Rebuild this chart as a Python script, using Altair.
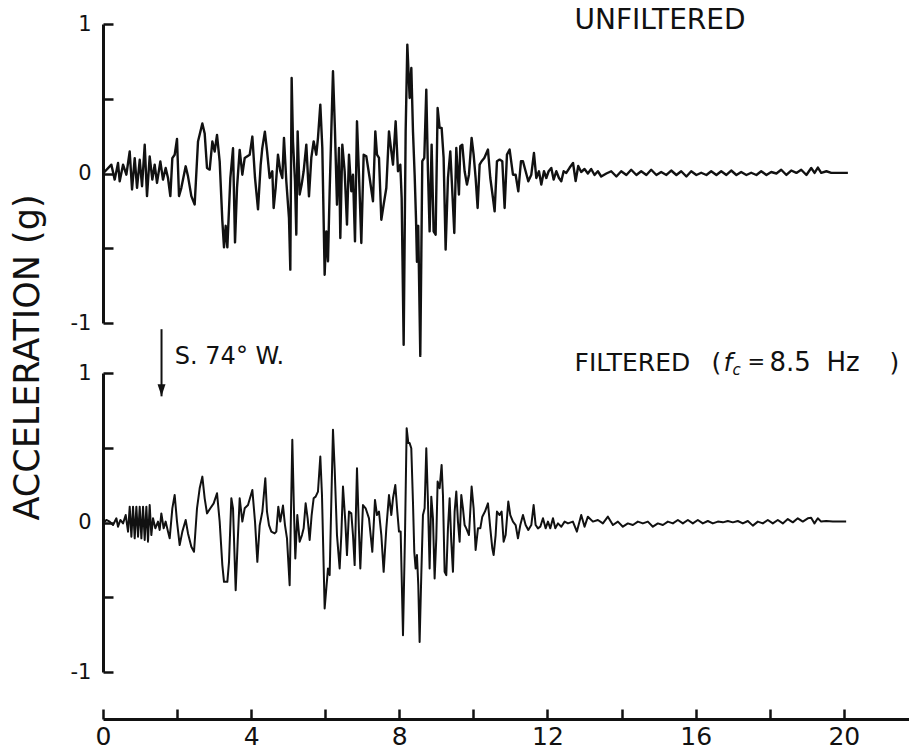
import altair as alt
import pandas as pd

# ---------------- data ----------------
UNF_T = [0.0, 0.226, 0.316, 0.406, 0.451, 0.541, 0.631, 0.721, 0.784, 0.856, 0.919, 0.991,
         1.054, 1.126, 1.188, 1.26, 1.332, 1.395, 1.458, 1.548, 1.62, 1.692, 1.755, 1.818,
         1.872, 1.935, 1.998, 2.052, 2.115, 2.232, 2.295, 2.385, 2.475, 2.565, 2.682, 2.745,
         2.808, 2.88, 2.952, 3.015, 3.078, 3.15, 3.222, 3.267, 3.312, 3.357, 3.438, 3.51,
         3.564, 3.618, 3.69, 3.762, 3.825, 3.96, 4.032, 4.104, 4.185, 4.257, 4.30, 4.37,
         4.43, 4.499, 4.571, 4.607, 4.661, 4.724, 4.787, 4.841, 4.886, 4.949, 5.021, 5.057,
         5.093, 5.129, 5.183, 5.219, 5.255, 5.309, 5.363, 5.417, 5.489, 5.561, 5.624, 5.687,
         5.759, 5.804, 5.867, 5.921, 5.984, 6.029, 6.074, 6.119, 6.164, 6.209, 6.263, 6.317,
         6.371, 6.407, 6.461, 6.524, 6.587, 6.641, 6.704, 6.749, 6.803, 6.857, 6.911, 6.974,
         7.037, 7.109, 7.199, 7.289, 7.352, 7.397, 7.451, 7.514, 7.577, 7.649, 7.721, 7.784,
         7.829, 7.901, 7.964, 8.027, 8.063, 8.117, 8.171, 8.216, 8.279, 8.324, 8.369, 8.414,
         8.45, 8.476, 8.51, 8.566, 8.62, 8.674, 8.728, 8.773, 8.818, 8.872, 8.926, 8.98,
         9.034, 9.088, 9.142, 9.196, 9.25, 9.313, 9.376, 9.43, 9.484, 9.538, 9.61, 9.646,
         9.7, 9.763, 9.826, 9.88, 9.952, 10.006, 10.06, 10.114, 10.168, 10.222, 10.294, 10.393,
         10.456, 10.528, 10.573, 10.636, 10.708, 10.78, 10.843, 10.906, 10.978, 11.068, 11.14, 11.212,
         11.284, 11.338, 11.41, 11.482, 11.563, 11.635, 11.698, 11.77, 11.833, 11.905, 11.968, 12.031,
         12.103, 12.166, 12.238, 12.31, 12.373, 12.436, 12.508,
         12.6, 12.69, 12.76, 12.83, 12.91, 13.0, 13.09, 13.18, 13.27, 13.36, 13.45, 13.59,
         13.72, 13.86, 13.99, 14.13, 14.26, 14.4, 14.53, 14.67, 14.8, 14.94, 15.07, 15.21,
         15.34, 15.48, 15.61, 15.75, 15.88, 16.02, 16.15, 16.29, 16.42, 16.56, 16.69, 16.83,
         16.96, 17.1, 17.23, 17.37, 17.5, 17.64, 17.77, 17.91, 18.04, 18.18, 18.31, 18.45,
         18.58, 18.72, 18.85, 18.99, 19.12, 19.21, 19.3, 19.39, 19.53, 19.66, 19.8, 20.11]
UNF_A = [0.0, 0.059, -0.041, 0.07, -0.052, 0.059, -0.008, 0.147, -0.107, 0.103, -0.096, 0.092,
         -0.085, 0.192, -0.151, 0.114, -0.041, 0.059, -0.063, 0.081, -0.041, 0.037, -0.03, -0.151,
         0.103, 0.125, 0.231, -0.151, -0.096, 0.048, -0.019, -0.151, -0.207, 0.214, 0.335, 0.268,
         0.037, 0.026, 0.214, 0.147, 0.258, 0.081, -0.317, -0.494, -0.35, -0.494, -0.03, 0.169,
         -0.461, -0.096, 0.158, -0.008, 0.103, 0.125, 0.247, -0.03, -0.24, 0.06, 0.17, 0.28,
         0.148, -0.03, 0.015, -0.231, -0.097, 0.126, 0.015, -0.03, 0.238, -0.052, -0.297, -0.643,
         0.639, 0.215, -0.052, -0.409, 0.282, -0.141, -0.074, 0.015, 0.193, -0.153, 0.104, 0.215,
         0.126, 0.238, 0.461, 0.171, -0.677, -0.387, -0.588, -0.119, 0.282, 0.684, 0.282, -0.208,
         0.171, -0.431, 0.193, 0.015, -0.342, 0.126, -0.119, -0.008, -0.454, 0.349, -0.008, -0.465,
         0.126, 0.115, -0.03, -0.186, 0.282, 0.126, 0.104, -0.309, -0.208, -0.097, 0.282, 0.148,
         0.059, 0.349, 0.015, 0.059, -0.164, -1.145, 0.282, 0.862, 0.505, 0.706, 0.28, -0.01,
         -0.3, -0.59, -0.35, -1.22, 0.082, 0.104, 0.561, 0.015, -0.387, 0.193, -0.387, -0.409,
         0.438, 0.305, 0.305, 0.104, -0.509, -0.03, 0.148, -0.119, -0.398, 0.171, -0.141, 0.182,
         0.193, 0.015, -0.074, -0.008, 0.238, 0.126, -0.03, -0.231, 0.059, 0.082, 0.104, 0.16,
         -0.03, -0.164, -0.253, 0.082, 0.093, 0.082, -0.231, 0.126, 0.16, -0.008, -0.008, -0.119,
         0.082, 0.082, 0.015, -0.052, -0.008, 0.137, -0.03, 0.015, -0.074, 0.015, -0.03, 0.015,
         0.037, -0.041, 0.015, -0.03, -0.052, 0.015, 0.004,
         0.04, 0.07, -0.05, 0.05, 0.01, 0.03, 0.0, 0.03, -0.01, 0.015, -0.02, 0.0,
         0.015, -0.02, 0.015, -0.01, 0.025, -0.01, 0.015, -0.01, 0.025, -0.01, 0.01, -0.01,
         0.02, -0.01, 0.015, -0.02, 0.015, -0.01, 0.005, -0.01, 0.015, -0.01, 0.015, -0.01,
         0.02, -0.01, 0.01, -0.01, 0.005, -0.01, 0.015, -0.01, 0.01, 0.0, 0.025, -0.01,
         0.02, 0.004, 0.025, -0.01, 0.037, 0.004, 0.04, 0.004, 0.015, 0.004, 0.004, 0.004]

FIL_T = [0.0, 0.091, 0.181, 0.271, 0.361, 0.406, 0.469, 0.541, 0.613, 0.676, 0.721, 0.766,
         0.811, 0.856, 0.901, 0.946, 0.991, 1.036, 1.081, 1.126, 1.171, 1.215, 1.26, 1.305,
         1.35, 1.413, 1.485, 1.53, 1.575, 1.638, 1.692, 1.755, 1.8, 1.872, 1.935, 1.998,
         2.07, 2.142, 2.232, 2.295, 2.385, 2.457, 2.538, 2.61, 2.682, 2.745, 2.808, 2.898,
         2.988, 3.078, 3.15, 3.222, 3.267, 3.357, 3.402, 3.465, 3.51, 3.582, 3.636, 3.69,
         3.762, 3.825, 3.915, 4.032, 4.104, 4.167, 4.23, 4.302, 4.382, 4.427, 4.481, 4.544,
         4.634, 4.679, 4.733, 4.787, 4.859, 4.913, 4.967, 5.039, 5.111, 5.156, 5.192, 5.246,
         5.309, 5.372, 5.417, 5.471, 5.525, 5.579, 5.633, 5.687, 5.741, 5.804, 5.867, 5.912,
         5.984, 6.029, 6.074, 6.119, 6.164, 6.209, 6.254, 6.317, 6.389, 6.434, 6.479, 6.542,
         6.587, 6.641, 6.704, 6.749, 6.794, 6.857, 6.911, 6.947, 7.019, 7.091, 7.181, 7.271,
         7.343, 7.397, 7.451, 7.514, 7.577, 7.649, 7.721, 7.784, 7.829, 7.892, 7.946, 7.991,
         8.036, 8.099, 8.153, 8.198, 8.243, 8.278, 8.323, 8.368, 8.404, 8.44, 8.476, 8.512,
         8.548, 8.593, 8.638, 8.683, 8.728, 8.773, 8.818, 8.863, 8.908, 8.953, 8.998, 9.034,
         9.088, 9.142, 9.178, 9.223, 9.268, 9.313, 9.358, 9.403, 9.448, 9.493, 9.538, 9.583,
         9.628, 9.673, 9.718, 9.763, 9.808, 9.88, 9.952, 10.006, 10.06, 10.123, 10.186, 10.24,
         10.312, 10.393, 10.456, 10.51, 10.546, 10.6, 10.636, 10.708, 10.762, 10.816, 10.87, 10.942,
         10.996, 11.068, 11.14, 11.203, 11.266, 11.338, 11.41, 11.482, 11.563, 11.626, 11.68, 11.743,
         11.806, 11.878, 11.95, 12.013, 12.076, 12.148, 12.211, 12.283, 12.373, 12.463, 12.553,
         12.686, 12.794, 12.911, 13.001, 13.091, 13.226, 13.361, 13.496, 13.631, 13.766, 13.901, 14.035,
         14.17, 14.305, 14.44, 14.575, 14.71, 14.845, 14.98, 15.115, 15.25, 15.385, 15.52, 15.655,
         15.79, 15.924, 16.059, 16.194, 16.329, 16.464, 16.599, 16.734, 16.869, 17.004, 17.139, 17.274,
         17.409, 17.544, 17.679, 17.813, 17.948, 18.083, 18.218, 18.353, 18.488, 18.623, 18.758, 18.893,
         19.028, 19.118, 19.208, 19.298, 19.388, 19.523, 19.703, 20.063]
FIL_A = [-0.006, 0.017, 0.006, -0.017, 0.028, -0.028, 0.017, -0.006, 0.05, -0.061, 0.106, -0.095,
         0.106, -0.106, 0.106, -0.095, 0.106, -0.106, 0.106, -0.117, 0.106, -0.128, 0.117, -0.084,
         0.028, -0.039, 0.006, -0.05, 0.061, -0.039, 0.006, -0.061, -0.106, 0.095, 0.184, 0.006,
         -0.151, -0.061, 0.017, -0.073, -0.162, -0.196, 0.095, 0.229, 0.307, 0.162, 0.061, 0.095,
         0.128, 0.196, 0.006, -0.285, -0.397, -0.397, -0.263, 0.162, 0.095, -0.453, -0.128, 0.162,
         0.006, 0.095, 0.117, 0.218, 0.006, -0.263, -0.02, 0.073, 0.296, 0.073, -0.017, -0.061,
         -0.073, -0.061, 0.106, 0.006, 0.113, -0.017, -0.106, -0.419, 0.553, 0.073, -0.24, 0.05,
         -0.128, -0.084, -0.039, 0.128, 0.028, -0.117, 0.05, 0.162, 0.173, 0.207, 0.441, 0.184,
         -0.575, -0.441, -0.307, -0.352, 0.14, 0.62, 0.363, -0.084, -0.307, -0.084, 0.24, 0.006,
         -0.218, 0.073, 0.061, -0.084, -0.285, 0.363, -0.061, -0.307, 0.117, 0.095, 0.028, -0.196,
         0.151, 0.05, 0.073, -0.084, -0.33, -0.039, 0.184, 0.05, 0.162, 0.251, 0.073, -0.061,
         -0.061, -0.754, -0.084, 0.631, 0.531, 0.531, 0.497, 0.14, -0.196, -0.307, -0.218, -0.419,
         -0.799, -0.352, 0.05, 0.095, 0.497, 0.14, -0.307, 0.173, 0.028, -0.374, -0.106, 0.274,
         0.229, 0.385, 0.184, -0.33, -0.352, -0.039, 0.162, -0.128, -0.33, 0.073, 0.207, 0.006,
         -0.128, 0.184, 0.095, -0.017, -0.039, -0.084, 0.24, 0.095, -0.184, -0.039, -0.039, 0.039,
         0.073, 0.128, -0.039, -0.173, -0.218, -0.084, 0.073, 0.05, 0.073, -0.128, -0.084, 0.14,
         0.05, 0.006, -0.017, -0.106, -0.017, 0.05, -0.017, -0.05, -0.017, 0.117, -0.017, -0.039,
         -0.028, 0.028, -0.039, 0.006, -0.039, 0.028, -0.039, -0.006, -0.028, 0.006, -0.006,
         0.006, -0.061, 0.05, -0.028, 0.039, 0.006, 0.017, -0.006, 0.039, -0.017, 0.006, -0.028,
         -0.006, -0.017, 0.006, -0.006, 0.006, -0.028, -0.006, -0.017, 0.006, -0.006, 0.017, -0.006,
         0.017, -0.006, 0.017, -0.006, 0.01, -0.006, 0.006, 0.001, 0.01, 0.001, 0.01, -0.006,
         0.01, -0.021, 0.006, -0.006, 0.017, -0.006, 0.017, -0.006, 0.023, 0.001, 0.028, 0.006,
         0.028, 0.032, -0.006, 0.028, 0.006, 0.01, 0.006, 0.006]

X_TICKS = [0, 2, 4, 6, 8, 10, 12, 14, 16, 18, 20]
Y_TICKS = [-1, -0.5, 0, 0.5, 1]
X_DOMAIN = [0, 21.76]
Y_DOMAIN = [-1, 1]

Y_TITLE = "ACCELERATION (g)"
TOP_LABEL = ["UNFILTERED"]
TOP_LABEL_T, TOP_LABEL_A = [12.73], [1.021]
BOT_LABEL_T, BOT_LABEL_A = [12.73], [1.065]
DIR_LABEL = ["S. 74° W."]
DIR_LABEL_T, DIR_LABEL_A = [1.94], [1.105]
ARROW_T, ARROW_TOP, ARROW_TIP = [1.58], [1.293], [0.844]

# pieces of "FILTERED ( f_c = 8.5 Hz )": text, pixel offset, size, style, vertical shift
FILT_PIECES = [("FILTERED", 0, 25, "normal", 0), ("(", 137, 25, "normal", 0),
               ("f", 149, 25, "italic", 0), ("c", 158, 15, "italic", 7),
               ("=", 173, 21, "normal", 0), ("8.5", 195, 26, "normal", 0),
               ("Hz", 252, 26, "normal", 0), (")", 315, 25, "normal", 0)]

FONT = "DejaVu Sans"
INK = "#111111"
W, H = 806, 299

unf = pd.DataFrame({"t": UNF_T, "a": UNF_A})
fil = pd.DataFrame({"t": FIL_T, "a": FIL_A})

xs = alt.Scale(domain=X_DOMAIN, nice=False, zero=False)
ys = alt.Scale(domain=Y_DOMAIN, nice=False, zero=False)

Y_LABEL_EXPR = ("datum.value % 1 == 0 ? (datum.value < 0 ? '-' + abs(datum.value) "
                ": '' + datum.value) : ''")


def y_main_axis(title=None):
    kw = dict(orient="left", values=Y_TICKS, labelExpr=Y_LABEL_EXPR, ticks=False,
              tickSize=0, domain=True, domainWidth=3, domainColor=INK, labelFont=FONT,
              labelFontSize=21, labelColor=INK, labelPadding=12, grid=False)
    if title:
        kw.update(title=title, titleX=-76, titleY=333, titleAlign="center",
                  titleBaseline="middle", titleFont=FONT, titleFontSize=35,
                  titleFontWeight="normal", titleColor=INK, titleLimit=1000)
    else:
        kw.update(title=None)
    return alt.Axis(**kw)


y_tick_axis = alt.Axis(orient="left", offset=-10, values=Y_TICKS, ticks=True, tickSize=10,
                       tickWidth=2.5, tickColor=INK, labels=False, domain=False,
                       grid=False, title=None)

x_main_axis = alt.Axis(orient="bottom", offset=47, values=X_TICKS,
                       labelExpr="datum.value % 4 == 0 ? datum.label : ''",
                       ticks=False, tickSize=0, domain=True, domainWidth=3, domainColor=INK,
                       labelFont=FONT, labelFontSize=25, labelColor=INK, labelPadding=5,
                       labelFlush=False, grid=False, title=None)
x_tick_axis = alt.Axis(orient="bottom", offset=37, values=X_TICKS, ticks=True, tickSize=10,
                       tickWidth=2.5, tickColor=INK, labels=False, domain=False,
                       grid=False, title=None)


def noax(field):
    return alt.X(field, scale=xs, axis=None)


def noay(field):
    return alt.Y(field, scale=ys, axis=None)


# ---------------- top panel (unfiltered) ----------------
top_line = alt.Chart(unf).mark_line(color=INK, strokeWidth=2.4, strokeJoin="round").encode(
    x=noax("t:Q"), y=alt.Y("a:Q", scale=ys, axis=y_main_axis(Y_TITLE)))
top_ticks = alt.Chart(unf).mark_line(strokeOpacity=0).encode(
    x=noax("t:Q"), y=alt.Y("a:Q", scale=ys, axis=y_tick_axis))
top_lab = alt.Chart(pd.DataFrame({"t": TOP_LABEL_T, "a": TOP_LABEL_A, "s": TOP_LABEL})).mark_text(
    align="left", baseline="middle", font=FONT, fontSize=28, color=INK).encode(
    x=noax("t:Q"), y=noay("a:Q"), text="s:N")

top = alt.layer(top_line, top_ticks, top_lab).resolve_axis(y="independent").properties(
    width=W, height=H)

# ---------------- bottom panel (filtered) ----------------
bot_line = alt.Chart(fil).mark_line(color=INK, strokeWidth=2.0, strokeJoin="round").encode(
    x=alt.X("t:Q", scale=xs, axis=x_main_axis), y=alt.Y("a:Q", scale=ys, axis=y_main_axis()))
bot_ticks = alt.Chart(fil).mark_line(strokeOpacity=0).encode(
    x=alt.X("t:Q", scale=xs, axis=x_tick_axis), y=alt.Y("a:Q", scale=ys, axis=y_tick_axis))

lab_df = pd.DataFrame({"t": BOT_LABEL_T, "a": BOT_LABEL_A})
filt_layers = []
for txt, dx, size, style, dy in FILT_PIECES:
    filt_layers.append(
        alt.Chart(lab_df).mark_text(align="left", baseline="middle", font=FONT, fontSize=size,
                                    fontStyle=style, dx=dx, dy=dy, color=INK, text=txt)
        .encode(x=noax("t:Q"), y=noay("a:Q")))

dir_lab = alt.Chart(pd.DataFrame({"t": DIR_LABEL_T, "a": DIR_LABEL_A, "s": DIR_LABEL})).mark_text(
    align="left", baseline="middle", font=FONT, fontSize=24, color=INK).encode(
    x=noax("t:Q"), y=noay("a:Q"), text="s:N")

arrow_df = pd.DataFrame({"t": ARROW_T, "top": ARROW_TOP, "tip": ARROW_TIP})
arrow_shaft = alt.Chart(arrow_df).mark_rule(color=INK, strokeWidth=2).encode(
    x=noax("t:Q"), y=noay("top:Q"), y2="tip:Q")
arrow_head = alt.Chart(arrow_df).mark_point(
    shape="M0,0L-0.33,-1L0.33,-1Z", filled=True, size=576, color=INK, opacity=1).encode(
    x=noax("t:Q"), y=noay("tip:Q"))

bottom = alt.layer(bot_line, bot_ticks, *filt_layers, dir_lab, arrow_shaft, arrow_head).resolve_axis(
    x="independent", y="independent").properties(width=W, height=H)

chart = alt.vconcat(top, bottom, spacing=50, bounds="flush").properties(
    padding={"left": 10, "top": 6, "right": 0, "bottom": 0},
    background="white",
).configure_view(stroke=None)

chart.save("out.html", embed_options={"renderer": "svg", "actions": False})
